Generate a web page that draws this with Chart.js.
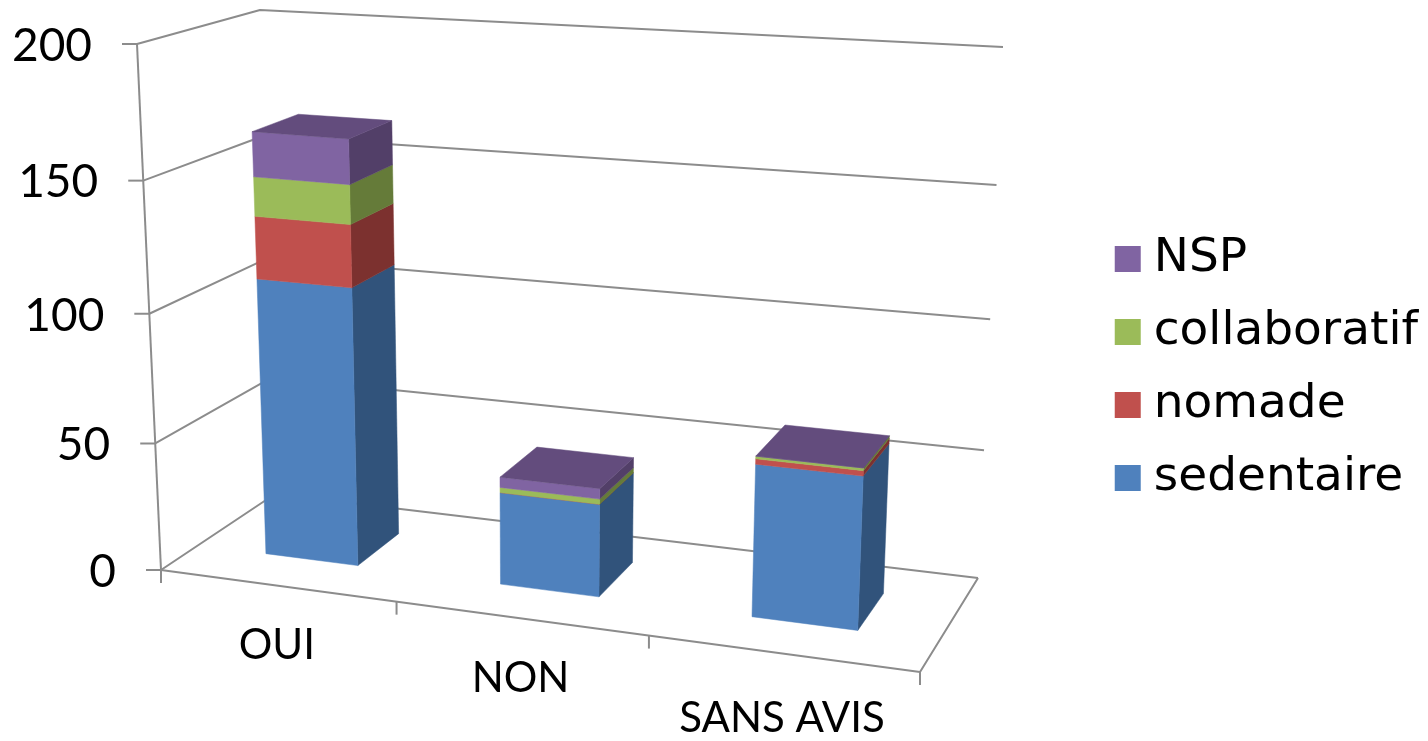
<!DOCTYPE html>
<html><head><meta charset="utf-8">
<style>html,body{margin:0;padding:0;background:#fff}#w{width:1428px;height:741px}</style>
<script src="https://cdn.jsdelivr.net/npm/chart.js@4"></script>
</head><body><div id="w"><canvas id="c"></canvas></div>
<script>
const categories = ["OUI", "NON", "SANS AVIS"];
const sedentaire = [109, 36, 58];
const nomade = [24, 0, 2];
const collaboratif = [15, 2, 1];
const nsp = [17, 4, 0];
const yTicks = [0, 50, 100, 150, 200];

const frontColors = ["#4F81BD", "#C0504D", "#9BBB59", "#8064A2"];
const sideColors = ["#31537B", "#7C312F", "#657B39", "#523F68"];
const topColor = "#634C7D";
const FONT = "Lato";
const LEGEND_FONT = "DejaVu Sans";

// perspective frame (screen corners of the 3D box): floor then ceiling, order front-left, front-right, back-right, back-left
const floorC = [[161,570],[920,672],[978,578],[275,494]];
const ceilC = [[137,44],[944,102],[1003,47],[260,10]];
const warp = (t,a)=>a*t/(1-t+a*t);
function project(u,v,w){
  const U=warp(u,0.90), V=warp(v,0.95);
  const bil=c=>[0,1].map(k=>(1-w)*((1-U)*c[0][k]+U*c[1][k])+w*((1-U)*c[3][k]+U*c[2][k]));
  const a=bil(floorC), b=bil(ceilC);
  return [a[0]+(b[0]-a[0])*V, a[1]+(b[1]-a[1])*V];
}
const BAR_W=[0.33,0.73];

const plugin3d={
  id:'persp',
  beforeDatasetsDraw(chart){
    const ctx=chart.ctx, xs=chart.scales.x, ys=chart.scales.y, ca=chart.chartArea;
    const nu=p=>(p-ca.left)/(ca.right-ca.left), nv=p=>(ca.bottom-p)/(ca.bottom-ca.top);
    const line=pts=>{ctx.beginPath();pts.forEach((p,i)=>i?ctx.lineTo(p[0],p[1]):ctx.moveTo(p[0],p[1]));ctx.stroke();};
    const poly=(pts,col)=>{ctx.beginPath();pts.forEach((p,i)=>i?ctx.lineTo(p[0],p[1]):ctx.moveTo(p[0],p[1]));ctx.closePath();ctx.fillStyle=col;ctx.fill();ctx.strokeStyle=col;ctx.lineWidth=0.5;ctx.stroke();};
    ctx.save();
    ctx.strokeStyle="#8C8C8C";ctx.lineWidth=2;ctx.lineJoin='round';
    // walls grid and value axis
    ys.ticks.forEach(t=>{
      const v=nv(ys.getPixelForValue(t.value));
      line([project(0,v,0),project(0,v,1),project(1,v,1)]);
      const p=project(0,v,0);
      line([[p[0]-15,p[1]],[p[0],p[1]]]);
      ctx.fillStyle="#000";ctx.font="46px "+FONT;ctx.textAlign='right';ctx.textBaseline='middle';
      ctx.fillText(String(t.value),p[0]-45,p[1]+2);
    });
    line([project(0,0,0),project(0,1,0)]);
    // floor edges and category ticks
    ctx.strokeStyle="#8C8C8C";ctx.lineWidth=2;
    line([project(0,0,0),project(1,0,0),project(1,0,1)]);
    for(let i=0;i<=categories.length;i++){
      const x=(xs.getPixelForValue(0)-(xs.getPixelForValue(1)-xs.getPixelForValue(0))/2)+i*(xs.getPixelForValue(1)-xs.getPixelForValue(0));
      const p=project(nu(x),0,0);
      line([p,[p[0],p[1]+13]]);
    }
    categories.forEach((c,i)=>{
      const p=project(nu(xs.getPixelForValue(i)),0,0);
      ctx.fillStyle="#000";ctx.font="42px "+FONT;ctx.textAlign='center';ctx.textBaseline='middle';
      ctx.fillText(c,p[0],p[1]+60+(i===2?5:0));
    });
    // bars
    const [w0,w1]=BAR_W;
    categories.forEach((c,i)=>{
      let top=null;
      chart.data.datasets.forEach((ds,k)=>{
        const el=chart.getDatasetMeta(k).data[i];
        const ul=nu(el.x-el.width/2), ur=nu(el.x+el.width/2), vb=nv(el.base), vt=nv(el.y);
        poly([project(ur,vb,w0),project(ur,vb,w1),project(ur,vt,w1),project(ur,vt,w0)],sideColors[k]);
        poly([project(ul,vb,w0),project(ur,vb,w0),project(ur,vt,w0),project(ul,vt,w0)],frontColors[k]);
        top={ul,ur,vt};
      });
      poly([project(top.ul,top.vt,w0),project(top.ur,top.vt,w0),project(top.ur,top.vt,w1),project(top.ul,top.vt,w1)],topColor);
    });
    ctx.restore();
    return false;
  }
};

const names=["sedentaire","nomade","collaboratif","NSP"];
const values=[sedentaire,nomade,collaboratif,nsp];
new Chart(document.getElementById('c'),{
  type:'bar',
  data:{labels:categories,datasets:names.map((n,k)=>({label:n,data:values[k],backgroundColor:frontColors[k],borderWidth:0,barPercentage:0.4,categoryPercentage:1}))},
  plugins:[plugin3d],
  options:{
    responsive:true,maintainAspectRatio:false,animation:false,
    layout:{padding:{right:0,left:0,top:0,bottom:4}},
    scales:{
      x:{stacked:true,display:false},
      y:{stacked:true,display:false,min:0,max:200,ticks:{stepSize:50}}
    },
    plugins:{
      tooltip:{enabled:false},
      legend:{position:'right',reverse:true,labels:{
        usePointStyle:true,pointStyle:'rect',boxWidth:5,boxHeight:26,padding:26,color:'#000',
        font:{family:LEGEND_FONT,size:47}
      }}
    }
  }
});
</script></body></html>
